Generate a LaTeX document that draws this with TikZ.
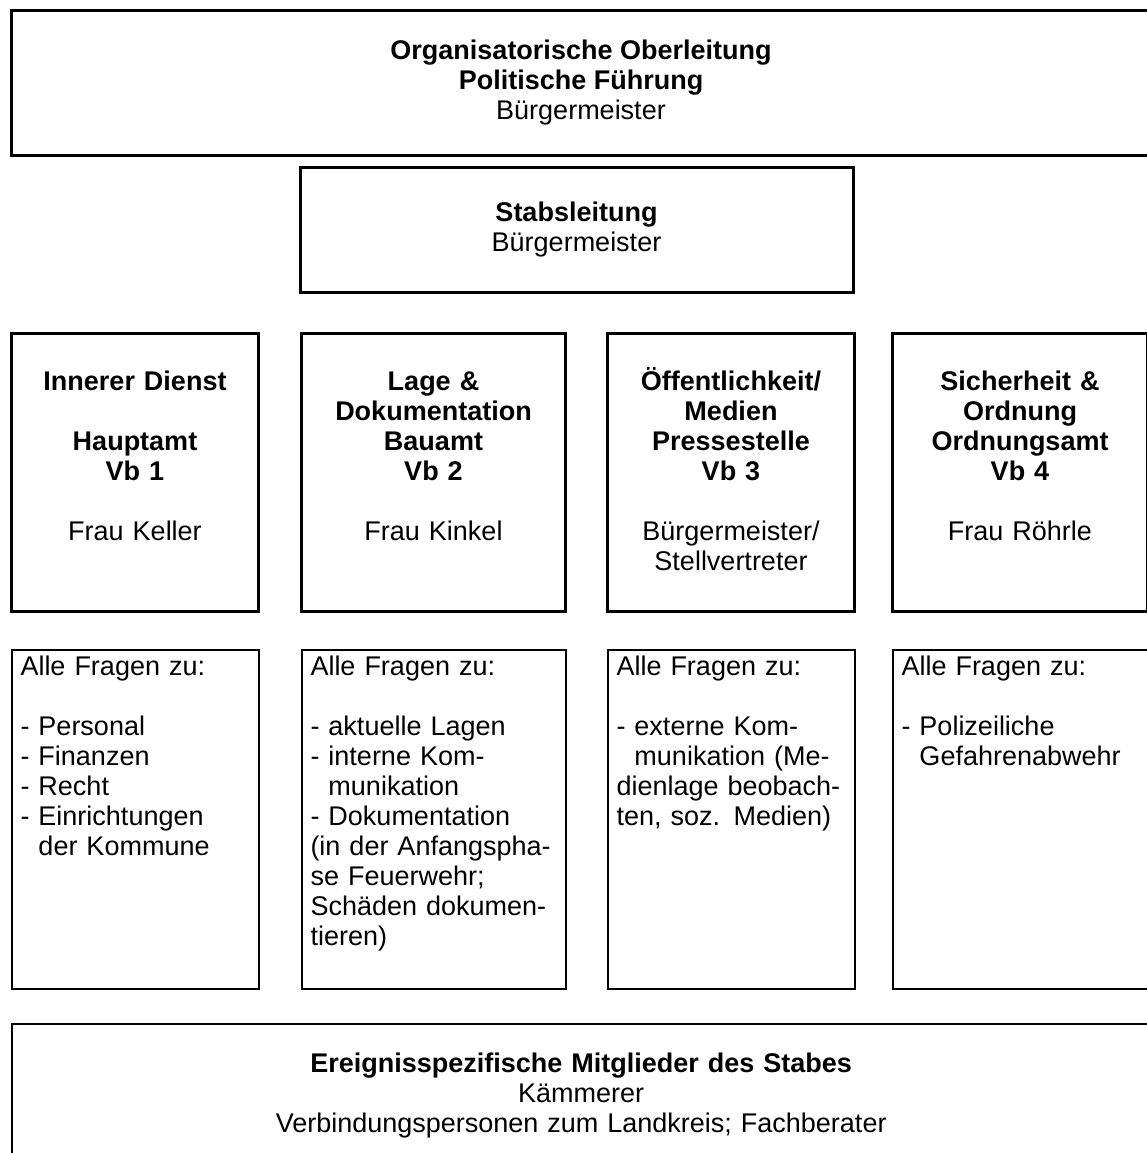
\documentclass[tikz,border=0pt]{standalone}
\usepackage{fontspec}
\setmainfont{Liberation Sans}
\usetikzlibrary{positioning}
\tikzstyle{leitung} = [rectangle, draw=black, line width=1.5pt, align=center, inner sep=0pt]
\tikzstyle{vbkopf} = [rectangle, draw=black, line width=1.5pt, align=center, inner xsep=2pt, inner ysep=0pt, text height=28.5pt, text depth=110.5pt]
\tikzstyle{fragen} = [rectangle, draw=black, line width=1pt, align=left, inner xsep=4.5pt, inner ysep=0pt, text height=13pt, text depth=156.5pt]
\tikzstyle{mitglieder} = [rectangle, draw=black, line width=1.2pt, align=center, inner sep=0pt, text height=24pt, text depth=80pt]
\newcommand{\einz}{\phantom{- }}

\begin{document}
\begin{tikzpicture}[x=0.5pt, y=-0.5pt, every node/.style={font=\fontsize{13.5}{15}\selectfont}]

% Bildausschnitt
\useasboundingbox (0,0) rectangle (1147,1153);
\clip (0,0) rectangle (1147,1153);

\node (ober) [leitung, anchor=north west, minimum width=569.5pt, minimum height=72.5pt] at (10,9) {\textbf{Organisatorische Oberleitung}\\ \textbf{Politische Führung}\\ Bürgermeister};

\node (stab) [leitung, minimum width=276.5pt, minimum height=62.5pt] at (576.5,229.5) {\textbf{Stabsleitung}\\ Bürgermeister};

% Verwaltungsbereiche
\node (vb1) [vbkopf, anchor=north west, text width=119.5pt] at (10,332) {\textbf{Innerer Dienst}\\[15pt] \textbf{Hauptamt}\\ \textbf{Vb 1}\\[15pt] Frau Keller};
\node (vb2) [vbkopf, right=20pt of vb1, text width=128pt] {\textbf{Lage \&}\\ \textbf{Dokumentation}\\ \textbf{Bauamt}\\ \textbf{Vb 2}\\[15pt] Frau Kinkel};
\node (vb3) [vbkopf, right=19.5pt of vb2, text width=119.5pt] {\textbf{Öffentlichkeit/}\\ \textbf{Medien}\\ \textbf{Pressestelle}\\ \textbf{Vb 3}\\[15pt] Bürgermeister/\\ Stellvertreter};
\node (vb4) [vbkopf, right=17.5pt of vb3, text width=123.5pt] {\textbf{Sicherheit \&}\\ \textbf{Ordnung}\\ \textbf{Ordnungsamt}\\ \textbf{Vb 4}\\[15pt] Frau Röhrle};

% Aufgaben
\node (fr1) [fragen, below=17.75pt of vb1, text width=114.5pt] {Alle Fragen zu:\\[15pt] - Personal\\ - Finanzen\\ - Recht\\ - Einrichtungen\\ \einz der Kommune};
\node (fr2) [fragen, below=17.75pt of vb2, text width=123pt] {Alle Fragen zu:\\[15pt] - aktuelle Lagen\\ - interne Kom-\\ \einz munikation\\ - Dokumentation\\ (in der Anfangspha-\\ se Feuerwehr;\\ Schäden dokumen-\\ tieren)};
\node (fr3) [fragen, below=17.75pt of vb3, text width=114.5pt] {Alle Fragen zu:\\[15pt] - externe Kom-\\ \einz munikation (Me-\\ dienlage beobach-\\ ten, soz. Medien)};
\node (fr4) [fragen, below=17.75pt of vb4, text width=118.5pt] {Alle Fragen zu:\\[15pt] - Polizeiliche\\ \einz Gefahrenabwehr};

\node (mitgl) [mitglieder, anchor=north west, text width=569pt] at (11,1023) {\textbf{Ereignisspezifische Mitglieder des Stabes}\\ Kämmerer\\ Verbindungspersonen zum Landkreis; Fachberater};

\end{tikzpicture}
\end{document}
